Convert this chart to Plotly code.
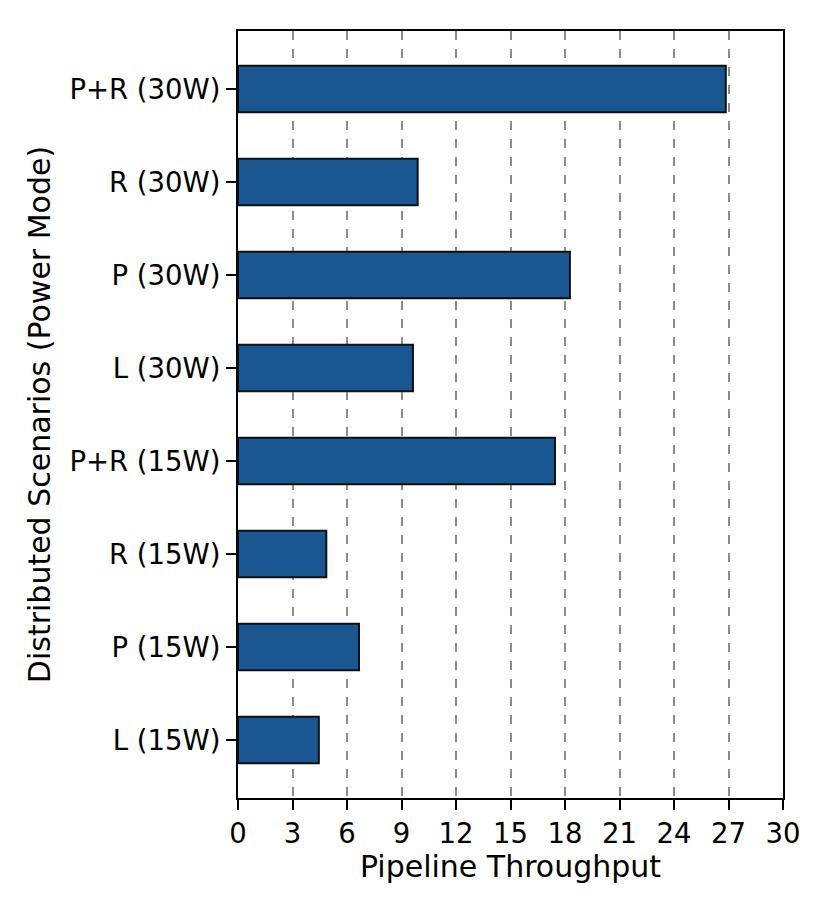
import plotly.graph_objects as go

categories = ["L (15W)", "P (15W)", "R (15W)", "P+R (15W)",
              "L (30W)", "P (30W)", "R (30W)", "P+R (30W)"]
throughput = [4.45, 6.66, 4.86, 17.45, 9.63, 18.27, 9.89, 26.85]
x_ticks = list(range(0, 31, 3))

FONT = "DejaVu Sans"
TICK_FS = 27.5
TITLE_FS = 30

fig = go.Figure()
fig.add_trace(go.Bar(
    x=throughput,
    y=list(range(len(categories))),
    orientation="h",
    width=0.5,
    marker=dict(color="#1a5692", line=dict(color="#111111", width=2)),
    showlegend=False,
))

fig.update_layout(
    width=830, height=913,
    margin=dict(l=230, r=55, t=23, b=123),
    plot_bgcolor="white", paper_bgcolor="white",
    font=dict(family=FONT, size=TICK_FS, color="black"),
    xaxis=dict(
        range=[0, 30], tickvals=x_ticks, ticktext=[str(v) for v in x_ticks],
        showgrid=True, gridcolor="rgba(0,0,0,0.45)", griddash="dash", gridwidth=1.5,
        showline=True, linecolor="black", linewidth=2, mirror=True,
        ticks="outside", ticklen=10, tickwidth=2, tickcolor="black",
        zeroline=False,
        title=dict(text="Pipeline Throughput", font=dict(family=FONT, size=TITLE_FS), standoff=4),
        tickfont=dict(family=FONT, size=TICK_FS),
    ),
    yaxis=dict(
        range=[-0.625, 7.625],
        tickvals=list(range(len(categories))), ticktext=categories,
        showgrid=False,
        showline=True, linecolor="black", linewidth=2, mirror=True,
        ticks="outside", ticklen=10, tickwidth=2, tickcolor="black",
        zeroline=False,
        title=dict(text="Distributed Scenarios (Power Mode)", font=dict(family=FONT, size=TITLE_FS), standoff=10),
        tickfont=dict(family=FONT, size=TICK_FS),
    ),
)
fig.write_html("out.html")
